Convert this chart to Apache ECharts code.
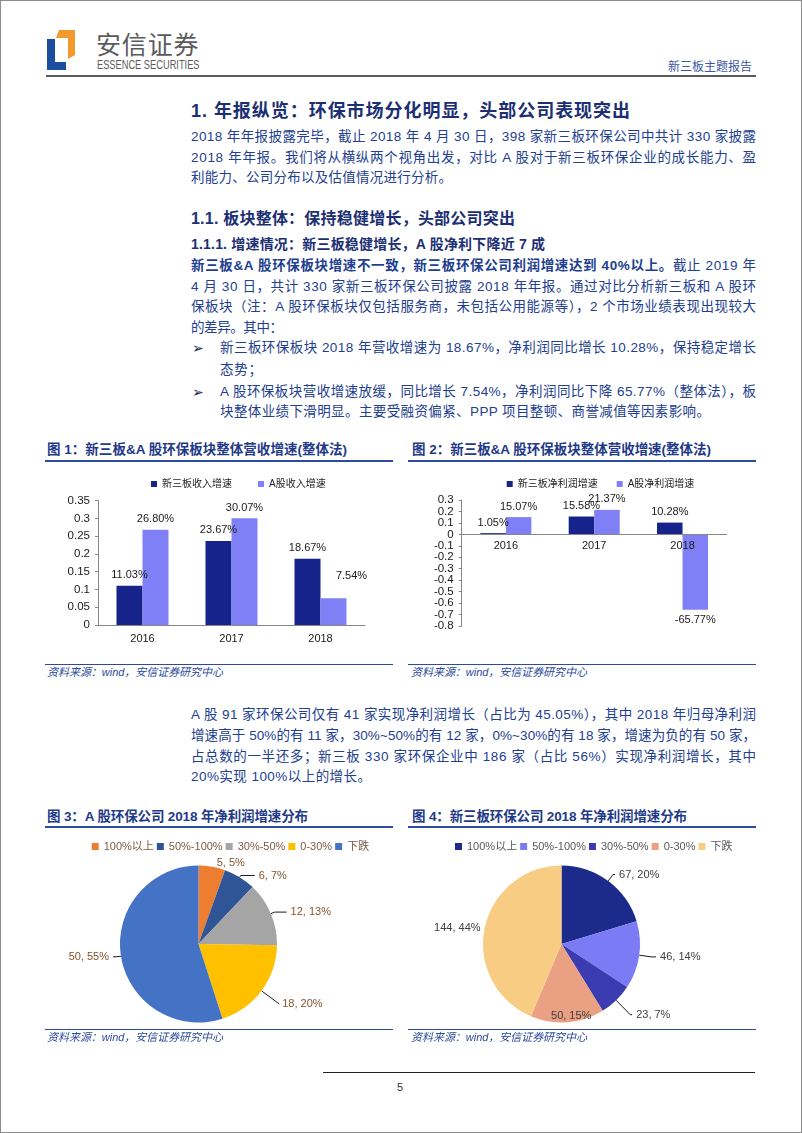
<!DOCTYPE html>
<html><head><meta charset="utf-8">
<script src="https://cdn.jsdelivr.net/npm/echarts@6/dist/echarts.min.js"></script>
<style>
html,body{margin:0;padding:0;background:#fff;}
#page{position:relative;width:802px;height:1133px;overflow:hidden;background:#fff;font-family:"Liberation Sans","Noto Sans CJK SC",sans-serif;}
#border{position:absolute;left:0;top:0;width:802px;height:1133px;box-sizing:border-box;border:1px solid #8c8c8c;pointer-events:none;}
.t{position:absolute;white-space:nowrap;line-height:20px;color:#22408f;font-size:13.5px;}
.h{font-weight:bold;color:#1b2f72;}
.ft{font-weight:bold;color:#1f3a88;font-size:13.5px;}
.src{font-style:italic;font-size:11px;color:#2a4a9a;}
.ln{position:absolute;height:1.5px;background:#2b4b9b;}
.ch{position:absolute;}
.bul{font-family:'DejaVu Sans',sans-serif;font-size:14px;font-weight:bold;color:#1a2550;}
</style></head>
<body><div id="page">
<svg style="position:absolute;left:0;top:0" width="120" height="80">
<polygon points="47,39 55,39 55,62 66,62 66,70 47,70" fill="#1b4e9e"/>
<polygon points="59,30 75,30 75,55 68,59 68,38 56,38" fill="#f29a2e"/>
</svg>
<span class="t" data-w="102.5" style="left:96px;top:28px;line-height:30px;font-size:25px;color:#5b5b5b;font-family:'Noto Sans CJK SC',sans-serif;">安信证券</span>
<span class="t sx" data-w="102.5" style="left:96.5px;top:56px;line-height:18px;font-size:13px;color:#5b5b5b;transform-origin:0 50%;">ESSENCE SECURITIES</span>
<span class="t" data-w="84" style="left:668px;top:56.7px;font-size:12px;color:#3b5aa6;">新三板主题报告</span>
<div style="position:absolute;left:46px;top:75px;width:710px;height:2px;background:#5a5a5a;"></div>

<span class="t h" data-w="439" style="left:191px;top:98.7px;line-height:24px;font-size:18px;">1. 年报纵览：环保市场分化明显，头部公司表现突出</span>
<span class="t" data-w="565" style="left:191px;top:126.7px;">2018 年年报披露完毕，截止 2018 年 4 月 30 日，398 家新三板环保公司中共计 330 家披露</span>
<span class="t" data-w="565" style="left:191px;top:147.7px;">2018 年年报。我们将从横纵两个视角出发，对比 A 股对于新三板环保企业的成长能力、盈</span>
<span class="t" data-w="261" style="left:191px;top:168.3px;">利能力、公司分布以及估值情况进行分析。</span>

<span class="t h" data-w="324" style="left:191px;top:209.3px;font-size:16px;">1.1. 板块整体：保持稳健增长，头部公司突出</span>
<span class="t h" data-w="354" style="left:191px;top:234px;font-size:14px;">1.1.1. 增速情况：新三板稳健增长，A 股净利下降近 7 成</span>
<span class="t" data-w="565" style="left:191px;top:256px;"><b>新三板&amp;A 股环保板块增速不一致，新三板环保公司利润增速达到 40%以上。</b>截止 2019 年</span>
<span class="t" data-w="565" style="left:191px;top:276.7px;">4 月 30 日，共计 330 家新三板环保公司披露 2018 年年报。通过对比分析新三板和 A 股环</span>
<span class="t" data-w="565" style="left:191px;top:297.3px;">保板块（注：A 股环保板块仅包括服务商，未包括公用能源等），2 个市场业绩表现出现较大</span>
<span class="t" data-w="92" style="left:191px;top:318.3px;">的差异。其中：</span>
<span class="t bul" style="left:192px;top:338.3px;">➢</span>
<span class="t" data-w="536" style="left:220px;top:338.3px;">新三板环保板块 2018 年营收增速为 18.67%，净利润同比增长 10.28%，保持稳定增长</span>
<span class="t" data-w="42" style="left:220px;top:360px;">态势；</span>
<span class="t bul" style="left:192px;top:381.7px;">➢</span>
<span class="t" data-w="536" style="left:220px;top:381.7px;">A 股环保板块营收增速放缓，同比增长 7.54%，净利润同比下降 65.77%（整体法），板</span>
<span class="t" data-w="490" style="left:220px;top:401.7px;">块整体业绩下滑明显。主要受融资偏紧、PPP 项目整顿、商誉减值等因素影响。</span>

<span class="t ft" data-w="300" style="left:47px;top:440px;">图 1：新三板&amp;A 股环保板块整体营收增速(整体法)</span>
<span class="t ft" data-w="299" style="left:412px;top:440px;">图 2：新三板&amp;A 股环保板块整体营收增速(整体法)</span>
<div class="ln" style="left:45px;top:460.3px;width:348px;"></div>
<div class="ln" style="left:408px;top:460.3px;width:348px;"></div>
<div id="c1" class="ch" style="left:40px;top:470px;width:360px;height:190px;"></div>
<div id="c2" class="ch" style="left:405px;top:470px;width:380px;height:190px;"></div>
<div class="ln" style="left:45px;top:663.5px;width:348px;"></div>
<div class="ln" style="left:408px;top:663.5px;width:348px;"></div>
<span class="t src" data-w="176" style="left:47px;top:662.3px;">资料来源：wind，安信证券研究中心</span>
<span class="t src" data-w="176" style="left:411px;top:662.3px;">资料来源：wind，安信证券研究中心</span>

<span class="t" data-w="565" style="left:191px;top:705px;">A 股 91 家环保公司仅有 41 家实现净利润增长（占比为 45.05%），其中 2018 年归母净利润</span>
<span class="t" data-w="565" style="left:191px;top:725.7px;">增速高于 50%的有 11 家，30%~50%的有 12 家，0%~30%的有 18 家，增速为负的有 50 家，</span>
<span class="t" data-w="565" style="left:191px;top:746.7px;">占总数的一半还多；新三板 330 家环保企业中 186 家（占比 56%）实现净利润增长，其中</span>
<span class="t" data-w="180" style="left:191px;top:767.3px;">20%实现 100%以上的增长。</span>

<span class="t ft" data-w="261" style="left:47px;top:806.7px;">图 3：A 股环保公司 2018 年净利润增速分布</span>
<span class="t ft" data-w="275" style="left:412px;top:806.7px;">图 4：新三板环保公司 2018 年净利润增速分布</span>
<div class="ln" style="left:45px;top:826px;width:348px;"></div>
<div class="ln" style="left:408px;top:826px;width:348px;"></div>
<div id="c3" class="ch" style="left:40px;top:830px;width:360px;height:198px;"></div>
<div id="c4" class="ch" style="left:405px;top:830px;width:380px;height:198px;"></div>
<div class="ln" style="left:45px;top:1028.6px;width:348px;"></div>
<div class="ln" style="left:408px;top:1028.6px;width:348px;"></div>
<span class="t src" data-w="176" style="left:47px;top:1027.3px;">资料来源：wind，安信证券研究中心</span>
<span class="t src" data-w="176" style="left:411px;top:1027.3px;">资料来源：wind，安信证券研究中心</span>

<div style="position:absolute;left:323px;top:1071.5px;width:432px;height:1.2px;background:#222;"></div>
<span class="t" style="left:397px;top:1077px;font-size:11px;color:#333;">5</span>
<div id="border"></div>
</div>
<script>
// ---- data ----
const barYears = ['2016', '2017', '2018'];
const revenueSeriesNames = ['新三板收入增速', 'A股收入增速'];
const revenueNeeq = [0.1103, 0.2367, 0.1867];
const revenueAshare = [0.2680, 0.3007, 0.0754];
const revenueAxis = [0, 0.35, 0.05];          // min, max, interval
const profitSeriesNames = ['新三板净利润增速', 'A股净利润增速'];
const profitNeeq = [0.0105, 0.1558, 0.1028];
const profitAshare = [0.1507, 0.2137, -0.6577];
const profitAxis = [-0.8, 0.3, 0.1];          // min, max, interval
const pieCategories = ['100%以上', '50%-100%', '30%-50%', '0-30%', '下跌'];
const aSharePieValues = [5, 6, 12, 18, 50];
const neeqPieValues = [67, 46, 23, 50, 144];

// ---- text fitting ----
document.querySelectorAll('.t[data-w]').forEach(el => {
  const target = parseFloat(el.dataset.w);
  if (el.classList.contains('sx')) {
    const w = el.getBoundingClientRect().width;
    el.style.transform = 'scaleX(' + (target / w).toFixed(4) + ')';
    return;
  }
  el.style.letterSpacing = '0px';
  const w = el.getBoundingClientRect().width;
  const n = Array.from(el.textContent).length;
  if (n > 1) el.style.letterSpacing = ((target - w) / (n - 1)).toFixed(3) + 'px';
});

// ---- charts ----
const FONT = "'Liberation Sans','Noto Sans CJK SC',sans-serif";
const AX = '#868686';
const pctFmt = p => (p.value * 100).toFixed(2) + '%';

function barOption(names, s1, s2, axis, opts) {
  // place the category axis at value 0 of the value axis
  const zeroOffset = -opts.grid.height * (0 - axis[0]) / (axis[1] - axis[0]);
  return {
    animation: false,
    textStyle: { fontFamily: FONT },
    legend: { data: names, left: opts.legendLeft, top: 4, icon: 'rect', itemWidth: 6, itemHeight: 6,
      itemGap: opts.legendGap, textStyle: { fontSize: 10, color: '#222', fontFamily: FONT } },
    grid: opts.grid,
    xAxis: { type: 'category', data: barYears, z: 10, position: 'bottom', offset: zeroOffset,
      axisLine: { onZero: false, lineStyle: { color: AX } },
      axisTick: { inside: true, length: 3, lineStyle: { color: AX } },
      axisLabel: { fontSize: 11, color: '#1a1a1a', margin: opts.xMargin, fontFamily: FONT } },
    yAxis: { type: 'value', min: axis[0], max: axis[1], interval: axis[2],
      splitLine: { show: false },
      axisLine: { show: true, lineStyle: { color: AX } },
      axisTick: { show: true, length: 3, lineStyle: { color: AX } },
      axisLabel: { fontSize: 11.5, color: '#1a1a1a', margin: 8, fontFamily: FONT } },
    series: [
      { name: names[0], type: 'bar', data: s1, barWidth: opts.barWidth, barGap: '0%',
        itemStyle: { color: '#16238a' },
        label: { show: true, position: 'top', distance: 5, fontSize: 11, color: '#1a1a1a', formatter: pctFmt, fontFamily: FONT } },
      { name: names[1], type: 'bar', data: s2, barWidth: opts.barWidth, barGap: '0%',
        itemStyle: { color: '#8080f6' },
        label: { show: true, position: 'top', distance: 5, fontSize: 11, color: '#1a1a1a', formatter: pctFmt, fontFamily: FONT } }
    ]
  };
}

const c1 = echarts.init(document.getElementById('c1'));
c1.setOption(barOption(revenueSeriesNames, revenueNeeq,
  revenueAshare.map((v, i) => i === 2 ? { value: v, label: { offset: [18, -12] } } : v),
  revenueAxis, { legendLeft: 106, legendGap: 26, grid: { left: 58, top: 30.7, width: 267, height: 124.3 }, xMargin: 8, barWidth: 26 }));

const c2 = echarts.init(document.getElementById('c2'));
c2.setOption(barOption(profitSeriesNames, profitNeeq,
  profitAshare.map(v => v < 0 ? { value: v, label: { position: 'bottom' } } : v),
  profitAxis, { legendLeft: 96.7, legendGap: 19, grid: { left: 56.7, top: 30, width: 265, height: 126 }, xMargin: 6, barWidth: 25.5 }));

function pieOption(values, colors, tweaks, opts) {
  return {
    animation: false,
    textStyle: { fontFamily: FONT },
    legend: { data: pieCategories, left: opts.legendLeft, top: 6, icon: 'rect', itemWidth: 7, itemHeight: 7, itemGap: 3,
      textStyle: { fontSize: 11, color: opts.legendColor, fontFamily: FONT } },
    series: [{
      type: 'pie', center: opts.center, radius: 78.5, startAngle: 90, clockwise: true,
      avoidLabelOverlap: false, percentPrecision: 0,
      itemStyle: { borderWidth: 0 },
      label: { position: 'outside', formatter: '{c}, {d}%', fontSize: 11, color: opts.labelColor, fontFamily: FONT, distanceToLabelLine: 4 },
      labelLine: { lineStyle: { color: '#1a1a1a', width: 1 } },
      data: values.map((v, i) => Object.assign({ name: pieCategories[i], value: v, itemStyle: { color: colors[i] } }, tweaks[i]))
    }]
  };
}

const pie3Colors = ['#ED7D31', '#2F5597', '#A5A5A5', '#FFC000', '#4472C4'];
const pie3Tweaks = [
  { labelLine: { show: false, length: 4, length2: 0 } },
  { labelLine: { length: 2, length2: 14 } },
  { labelLine: { length: 4, length2: 12 } },
  { labelLine: { length: 22, length2: 0 }, label: { distanceToLabelLine: 3 } },
  { labelLine: { length: 4, length2: 4 } }
];
const c3 = echarts.init(document.getElementById('c3'));
c3.setOption(pieOption(aSharePieValues, pie3Colors, pie3Tweaks,
  { legendLeft: 46.7, center: [158.5, 114], legendColor: '#7a5a45', labelColor: '#86542f' }));

const pie4Colors = ['#1C2A8C', '#7B7BF5', '#3C3CB2', '#E9A083', '#F9CC83'];
const pie4Tweaks = [
  { labelLine: { length: 8, length2: 2 } },
  { labelLine: { length: 12, length2: 5 } },
  { labelLine: { length: 20, length2: 2 } },
  { labelLine: { show: false, length: -6, length2: 0 }, label: { distanceToLabelLine: -16 } },
  { labelLine: { show: false, length: 0, length2: 0 } }
];
const c4 = echarts.init(document.getElementById('c4'));
c4.setOption(pieOption(neeqPieValues, pie4Colors, pie4Tweaks,
  { legendLeft: 45, center: [156.5, 114], legendColor: '#595959', labelColor: '#404040' }));
</script>
</body></html>
